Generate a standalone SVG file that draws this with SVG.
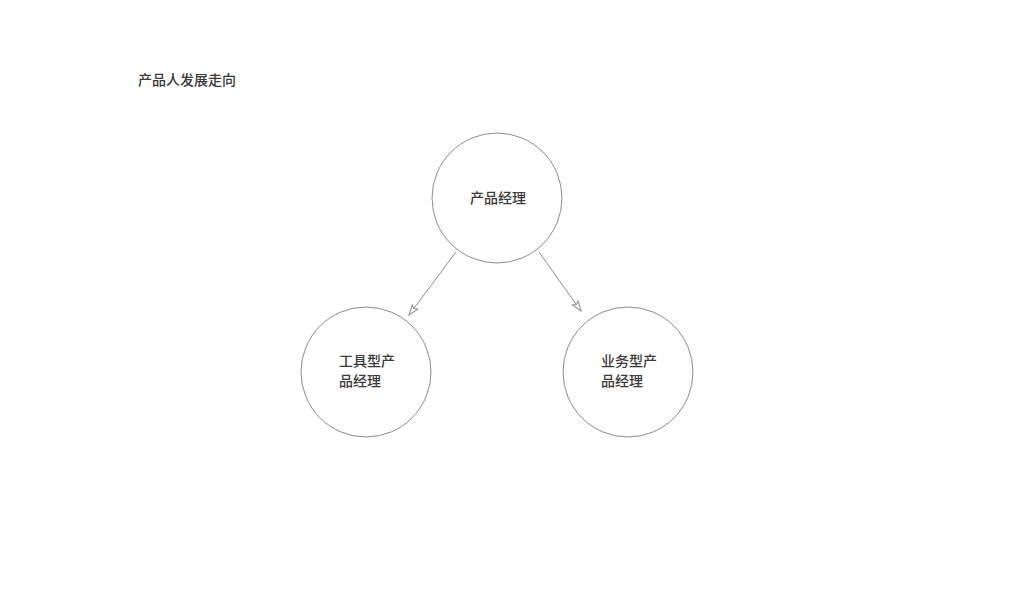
<svg xmlns="http://www.w3.org/2000/svg" width="1020" height="600" viewBox="0 0 1020 600">
<style>
.n{fill:#fff;stroke:#8c8c8c;stroke-width:1}
.t{font-family:"Noto Sans CJK SC","Noto Sans",sans-serif;font-size:14px;font-weight:500;fill:#3a3a3a}
.c{stroke:#8c8c8c;stroke-width:1;fill:none}
</style>
<defs>
<marker id="ah" markerWidth="12" markerHeight="10" refX="11" refY="5" orient="auto" markerUnits="userSpaceOnUse">
<path d="M1,1.5 L11,5 L1,8.5 L3,5 Z" fill="#fff" stroke="#8c8c8c" stroke-width="1"/>
</marker>
</defs>
<rect width="1020" height="600" fill="#fff"/>
<text class="t" x="138" y="85">产品人发展走向</text>
<g id="connectors">
<line class="c" x1="456" y1="252" x2="409" y2="315" marker-end="url(#ah)"/>
<line class="c" x1="539" y1="252" x2="581" y2="311" marker-end="url(#ah)"/>
</g>
<g id="pm">
<circle class="n" cx="497" cy="198" r="65"/>
<text class="t" x="498" y="203" text-anchor="middle">产品经理</text>
</g>
<g id="tool-pm">
<circle class="n" cx="366" cy="372" r="65"/>
<text class="t" x="339" y="366">工具型产</text>
<text class="t" x="339" y="386">品经理</text>
</g>
<g id="biz-pm">
<circle class="n" cx="628" cy="372" r="65"/>
<text class="t" x="601" y="366">业务型产</text>
<text class="t" x="601" y="386">品经理</text>
</g>
</svg>
